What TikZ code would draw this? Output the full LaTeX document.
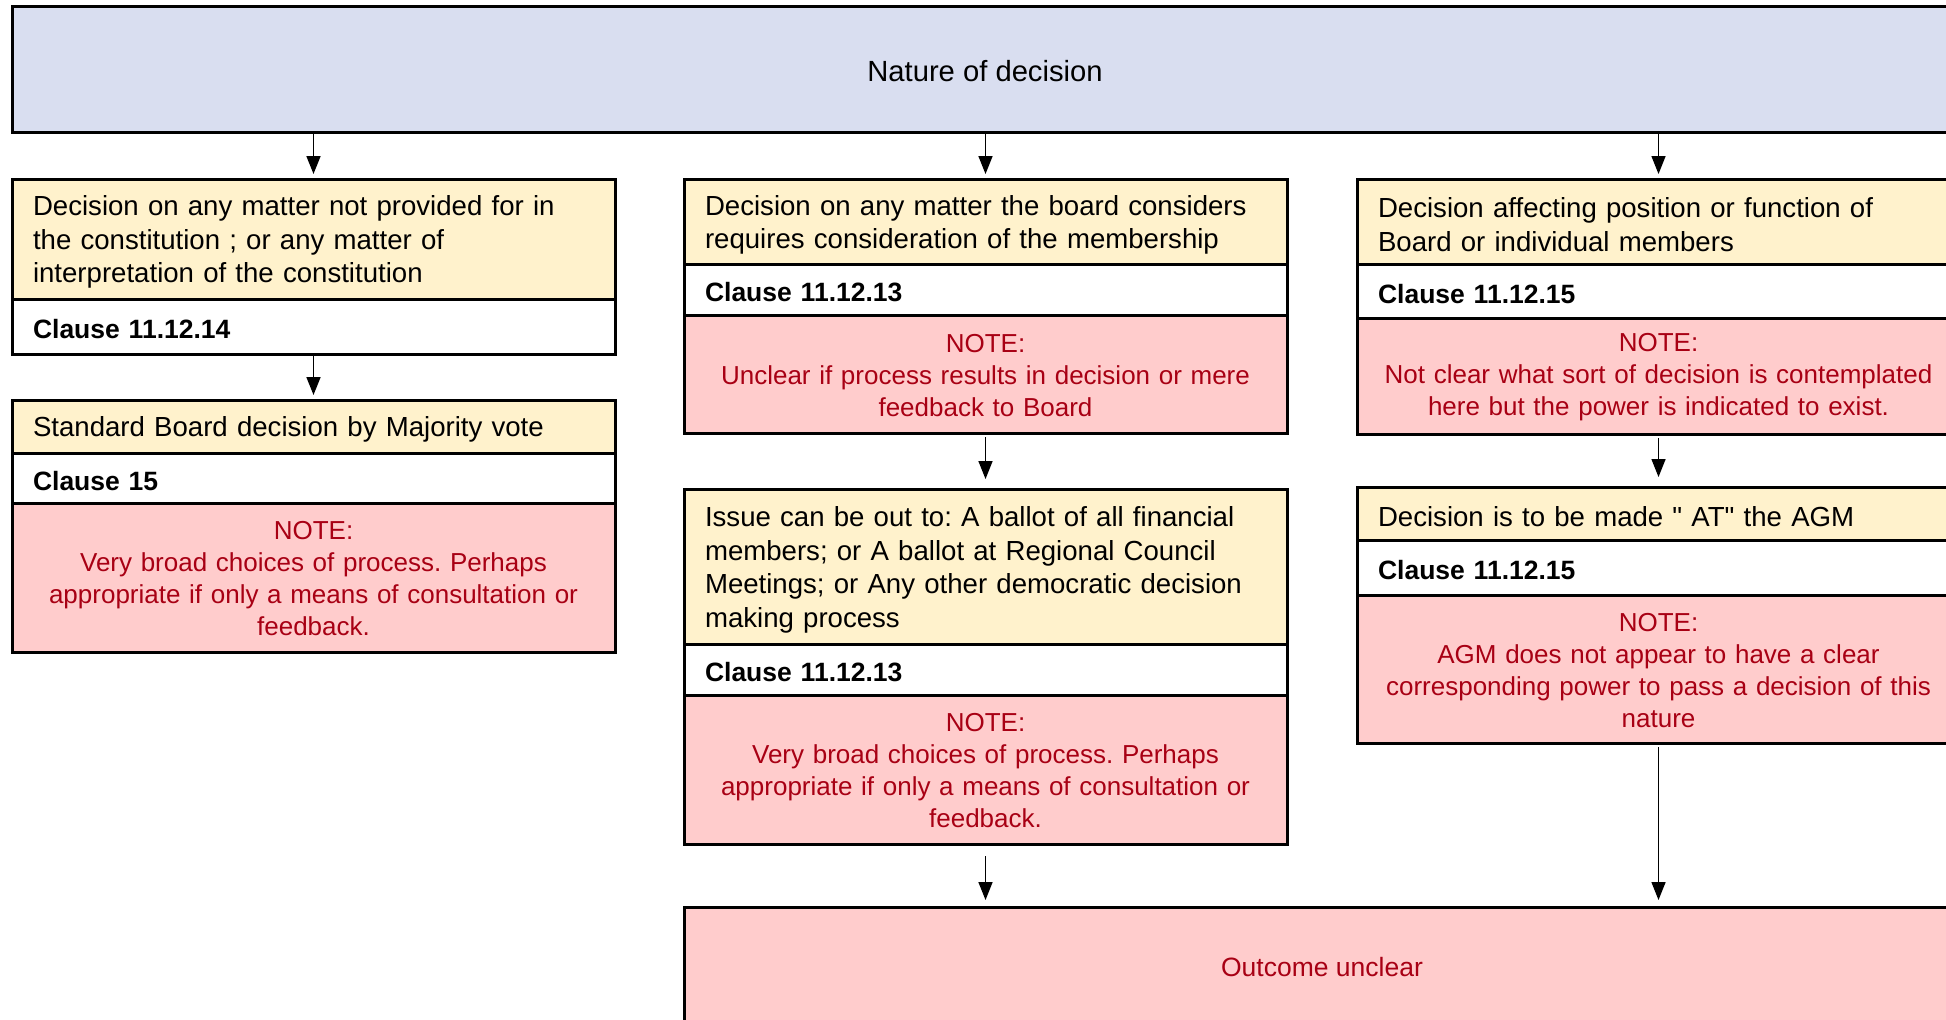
\documentclass[tikz,border=0pt]{standalone}
\usepackage{fontspec}
\setmainfont{Liberation Sans}[Ligatures=TeXOff]
\usetikzlibrary{arrows.meta}
\frenchspacing
\definecolor{hdrblue}{RGB}{217,222,240}
\definecolor{yel}{RGB}{255,242,204}
\definecolor{pinkfill}{RGB}{255,204,204}
\definecolor{notered}{RGB}{168,0,20}
\tikzset{
  sect/.style={draw=black, line width=1.5pt, outer sep=0pt, anchor=north west,
    minimum width=301.5pt, text width=280.5pt, inner xsep=10.5pt, inner ysep=0pt},
  ysect/.style={sect, fill=yel, align=left, font=\fontsize{13.8pt}{16.75pt}\selectfont,
    execute at begin node={\rule{0pt}{13.2pt}}},
  csect/.style={sect, fill=white, align=left, font=\fontsize{13.25pt}{16.75pt}\selectfont\bfseries,
    execute at begin node={\rule{0pt}{12.2pt}}},
  nsect/.style={sect, fill=pinkfill, align=center, text=notered, font=\fontsize{13pt}{16pt}\selectfont,
    execute at begin node={\rule{0pt}{10.3pt}}},
  arr/.style={line width=0.8pt, -{Triangle[length=9pt,width=7pt]}},
}
\begin{document}
\begin{tikzpicture}[x=0.5pt,y=-0.5pt]
\useasboundingbox (0,0) rectangle (1946,1019);
\fill[white] (0,0) rectangle (1946,1019);
\clip (0,0) rectangle (1946,1019);

\node[draw=black, line width=1.5pt, outer sep=0pt, fill=hdrblue, minimum width=973pt, minimum height=63pt, inner sep=0pt,
  font=\fontsize{14.6pt}{17pt}\selectfont, text height=12.8pt, text depth=0pt] (top) at (985,69) {Nature of decision};

% left column
\node[ysect, minimum height=60pt] (l1y) at (12,179) {Decision on any matter not provided for in\\the constitution ; or any matter of\\interpretation of the constitution};
\node[csect, minimum height=27.5pt] (l1c) at (l1y.south west) {Clause 11.12.14};
\node[ysect, minimum height=26.5pt] (l2y) at (12,400) {Standard Board decision by Majority vote};
\node[csect, minimum height=25pt] (l2c) at (l2y.south west) {Clause 15};
\node[nsect, minimum height=74.5pt] (l2n) at (l2c.south west) {NOTE:\\Very broad choices of process. Perhaps\\appropriate if only a means of consultation or\\feedback.};

% middle column
\node[ysect, minimum height=42.5pt] (m1y) at (684,179) {Decision on any matter the board considers\\requires consideration of the membership};
\node[csect, minimum height=25.5pt] (m1c) at (m1y.south west) {Clause 11.12.13};
\node[nsect, minimum height=59pt] (m1n) at (m1c.south west) {NOTE:\\Unclear if process results in decision or mere\\feedback to Board};
\node[ysect, minimum height=77.5pt] (m2y) at (684,489) {Issue can be out to: A ballot of all financial\\members; or A ballot at Regional Council\\Meetings; or Any other democratic decision\\making process};
\node[csect, minimum height=25.5pt] (m2c) at (m2y.south west) {Clause 11.12.13};
\node[nsect, minimum height=74.5pt] (m2n) at (m2c.south west) {NOTE:\\Very broad choices of process. Perhaps\\appropriate if only a means of consultation or\\feedback.};

% right column
\node[ysect, minimum height=42.5pt] (r1y) at (1357,179) {Decision affecting position or function of\\Board or individual members};
\node[csect, minimum height=27pt] (r1c) at (r1y.south west) {Clause 11.12.15};
\node[nsect, minimum height=58pt] (r1n) at (r1c.south west) {NOTE:\\Not clear what sort of decision is contemplated\\here but the power is indicated to exist.};
\node[ysect, minimum height=26.5pt] (r2y) at (1357,487) {Decision is to be made " AT" the AGM};
\node[csect, minimum height=27.5pt] (r2c) at (r2y.south west) {Clause 11.12.15};
\node[nsect, minimum height=74pt] (r2n) at (r2c.south west) {NOTE:\\AGM does not appear to have a clear\\corresponding power to pass a decision of this\\nature};

% outcome
\node[draw=black, line width=1.5pt, outer sep=0pt, fill=pinkfill, text=notered, anchor=north west,
  minimum width=638pt, minimum height=60pt, inner sep=0pt,
  font=\fontsize{13.25pt}{16.75pt}\selectfont] (out) at (684,907) {Outcome unclear};

% arrows
\draw[arr, shorten <=1pt, shorten >=2.5pt] (top.south -| l1y.north) -- (l1y.north);
\draw[arr, shorten <=1pt, shorten >=2.5pt] (top.south -| m1y.north) -- (m1y.north);
\draw[arr, shorten <=1pt, shorten >=2.5pt] (top.south -| r1y.north) -- (r1y.north);
\draw[arr, shorten <=1pt, shorten >=2.5pt] (l1c.south) -- (l2y.north);
\draw[arr, shorten <=2pt, shorten >=5pt] (m1n.south) -- (m2y.north);
\draw[arr, shorten <=2pt, shorten >=5pt] (r1n.south) -- (r2y.north);
\draw[arr, shorten <=6pt, shorten >=3.5pt] (m2n.south) -- (m2n.south |- out.north);
\draw[arr, shorten <=2pt, shorten >=3.5pt] (r2n.south) -- (r2n.south |- out.north);
\end{tikzpicture}
\end{document}
